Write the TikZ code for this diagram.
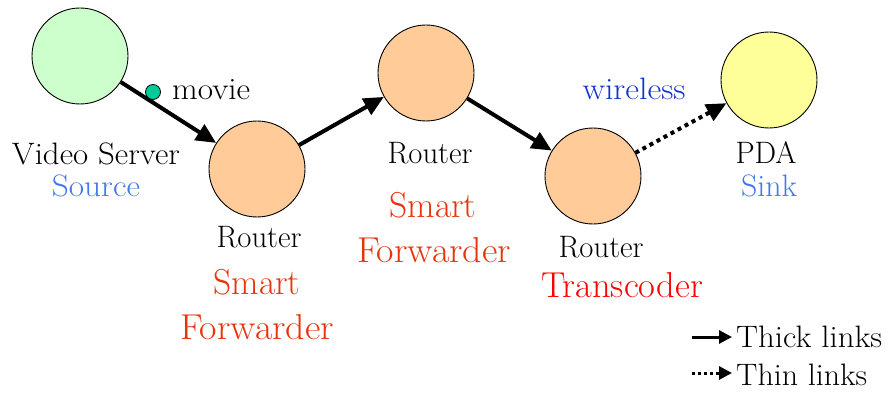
\documentclass[tikz,border=0pt]{standalone}
\usetikzlibrary{arrows.meta}
\definecolor{srvgreen}{HTML}{CCFFCC}
\definecolor{rtorange}{HTML}{FFCC99}
\definecolor{pdayellow}{HTML}{FFFF99}
\definecolor{srcblue}{HTML}{4477EE}
\definecolor{wblue}{HTML}{1133CC}
\definecolor{fwdred}{HTML}{E8340C}
\definecolor{trred}{HTML}{FF0000}
\definecolor{dotgreen}{HTML}{00CC99}
\newcommand{\fitw}[2]{\resizebox{#1pt}{\height}{#2}}
\tikzset{
  dev/.style={circle,draw=black,line width=0.9pt,minimum size=96pt,inner sep=0pt},
  lbl/.style={anchor=base,inner sep=0pt,font=\fontsize{31}{36}\selectfont},
  big/.style={anchor=base,inner sep=0pt,font=\fontsize{36}{42}\selectfont},
  thick link/.style={line width=4pt,-{Triangle[length=20pt,width=18pt]}},
  thin link/.style={line width=4pt,dash pattern=on 4pt off 4pt,-{Triangle[length=20pt,width=18pt]}},
}
\begin{document}
\begin{tikzpicture}[x=1pt,y=-1pt]
\useasboundingbox (0,0) rectangle (891,393);
\node[dev,fill=srvgreen] (vs) at (80,56) {};
\node[dev,fill=rtorange] (r1) at (257,169) {};
\node[dev,fill=rtorange] (r2) at (426,73) {};
\node[dev,fill=rtorange] (r3) at (593,176) {};
\node[dev,fill=pdayellow] (pda) at (769,80) {};
\draw[thick link] (vs) -- (r1);
\draw[thick link] (r1) -- (r2);
\draw[thick link] (r2) -- (r3);
\draw[thin link] (r3) -- (pda);
\node[circle,draw=black,line width=0.8pt,fill=dotgreen,minimum size=15pt,inner sep=0pt] (dot) at (153,92) {};
\node[lbl,anchor=base west] (mv) at (172,100) {\fitw{78}{movie}};
\node[lbl] (vsl) at (96,164) {\fitw{168}{Video Server}};
\node[lbl,text=srcblue] (src) at (96,196) {\fitw{88}{Source}};
\node[lbl] (r1l) at (259,247) {\fitw{85}{Router}};
\node[big,text=fwdred] (r1s) at (257,294) {\fitw{87}{Smart}};
\node[big,text=fwdred] (r1f) at (257,339) {\fitw{154}{Forwarder}};
\node[lbl] (r2l) at (430,163) {\fitw{85}{Router}};
\node[big,text=fwdred] (r2s) at (433,217) {\fitw{87}{Smart}};
\node[big,text=fwdred] (r2f) at (434,262) {\fitw{154}{Forwarder}};
\node[lbl] (r3l) at (601,257) {\fitw{85}{Router}};
\node[big,text=trred] (r3t) at (622,297) {\fitw{162}{Transcoder}};
\node[lbl,text=wblue] (wl) at (634,100) {\fitw{103}{wireless}};
\node[lbl] (pdal) at (766,164) {\fitw{61}{PDA}};
\node[lbl,text=srcblue] (sink) at (769,196) {\fitw{56}{Sink}};
\coordinate (a1) at (692,337);
\coordinate (a2) at (732,337);
\coordinate (b1) at (692,373);
\coordinate (b2) at (732,373);
\draw[line width=3pt,-{Triangle[length=13pt,width=13pt]}] (a1) -- (a2);
\draw[line width=3pt,dash pattern=on 3pt off 3pt,-{Triangle[length=13pt,width=13pt]}] (b1) -- (b2);
\node[lbl,anchor=base west] (tk) at (736,347) {\fitw{146}{Thick links}};
\node[lbl,anchor=base west] (tn) at (736,385) {\fitw{131}{Thin links}};
\end{tikzpicture}
\end{document}
